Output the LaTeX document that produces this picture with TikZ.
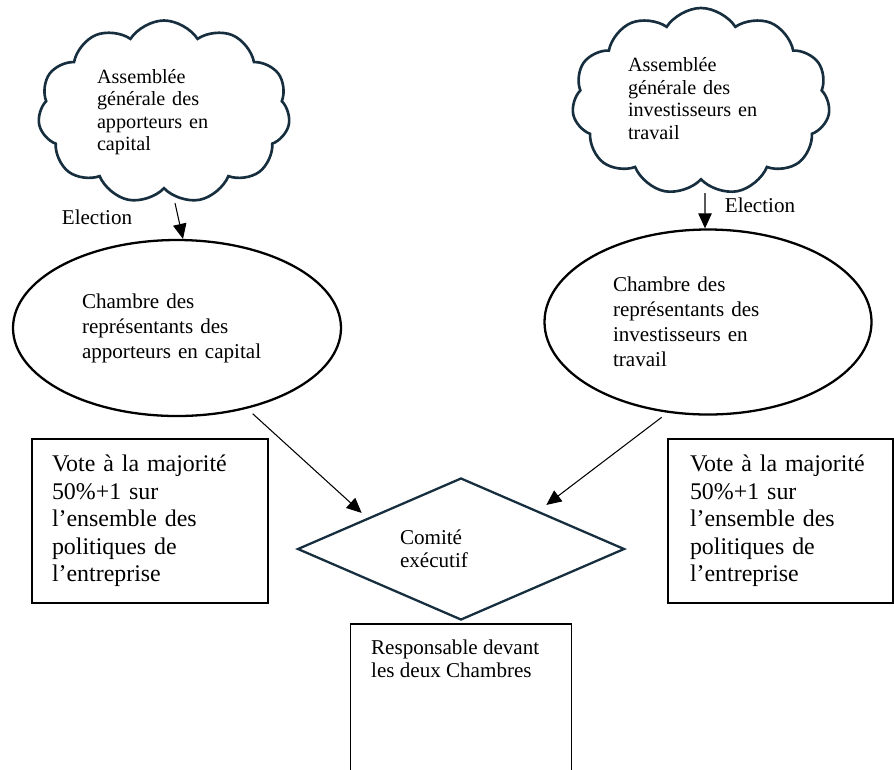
\documentclass[tikz,border=0pt]{standalone}
\usepackage{fontspec}
\setmainfont{Liberation Serif}
\usetikzlibrary{shapes.symbols, shapes.geometric, arrows.meta, positioning}
\definecolor{cloudline}{RGB}{22,46,62}
\tikzstyle{assembly} = [cloud, cloud puffs=11, cloud puff arc=115, cloud ignores aspect, draw=cloudline, line width=1.5pt, inner sep=0pt]
\tikzstyle{assemblytext} = [align=left, inner sep=0pt, font=\fontsize{11.5}{12.8}\selectfont]
\tikzstyle{chamber} = [ellipse, draw=black, line width=1.3pt, text width=3.8cm, align=left, inner sep=0pt, font=\fontsize{12}{14.2}\selectfont]
\tikzstyle{vote} = [rectangle, draw=black, line width=0.8pt, minimum height=3.28cm, align=left, font=\fontsize{13.6}{15.6}\selectfont]
\tikzstyle{decision} = [diamond, aspect=2.3, draw=cloudline, line width=1.3pt, minimum width=6.54cm, minimum height=2.84cm, text width=2.44cm, align=left, inner sep=0pt, font=\fontsize{12}{13.1}\selectfont]
\tikzstyle{plainbox} = [rectangle, draw=black, line width=0.8pt]
\tikzstyle{electlabel} = [inner sep=0pt, font=\fontsize{12}{14}\selectfont]
\tikzstyle{arrow} = [line width=0.6pt, -{Triangle[length=0.3cm, width=0.27cm]}]

\begin{document}
\begin{tikzpicture}
    \useasboundingbox (0,0) rectangle (17.88,-15.38);

    % Nodes
    \node (lcloud) [assembly, minimum width=5.04cm, minimum height=3.66cm] at (3.28,-2.24) {};
    \node (lcloudtext) [assemblytext, text width=2.68cm] at (lcloud.center) {Assemblée\\générale des\\apporteurs en\\capital};
    \node (rcloud) [assembly, minimum width=5.16cm, minimum height=3.74cm] at (14.02,-2.03) {};
    \node (rcloudtext) [assemblytext, text width=2.92cm] at ([yshift=0.06cm]rcloud.center) {Assemblée\\générale des\\investisseurs en\\travail};
    \node (lchamber) [chamber, minimum width=6.56cm, minimum height=3.52cm] at (3.54,-6.56) {Chambre des\\représentants des\\apporteurs en capital};
    \node (rchamber) [chamber, minimum width=6.54cm, minimum height=3.7cm] at (14.16,-6.44) {Chambre des\\représentants des\\investisseurs en\\travail};
    \node (elecL) [electlabel] at (1.94,-4.34) {Election};
    \node (elecR) [electlabel] at (15.2,-4.1) {Election};
    \node (comite) [decision] at (9.22,-10.98) {Comité\\exécutif};
    \node (lvote) [vote, minimum width=4.72cm, text width=3.92cm] at (3.0,-10.42) {Vote à la majorité\\50\%+1 sur\\l’ensemble des\\politiques de\\l’entreprise};
    \node (rvote) [vote, minimum width=4.5cm, text width=3.62cm] at (15.61,-10.42) {Vote à la majorité\\50\%+1 sur\\l’ensemble des\\politiques de\\l’entreprise};
    \node (resp) [plainbox, below=0.04cm of comite, minimum width=4.42cm, minimum height=3.5cm] {};
    \node (resptext) [anchor=north west, inner sep=0pt, align=left, font=\fontsize{12}{13.1}\selectfont] at ([xshift=0.42cm, yshift=-0.32cm]resp.north west) {Responsable devant\\les deux Chambres};

    % Arrows
    \draw [arrow] ([shift={(0.22cm,-0.26cm)}]lcloud.south) -- ([xshift=0.12cm]lchamber.north);
    \draw [arrow] ([shift={(0.08cm,-0.24cm)}]rcloud.south) -- ([xshift=-0.06cm]rchamber.north);
    \draw [arrow, shorten <=0.15cm] (lchamber.-49) -- ([xshift=-0.34cm]comite.north west);
    \draw [arrow, shorten <=0.15cm] (rchamber.-114) -- ([shift={(0.06cm,0.16cm)}]comite.north east);

\end{tikzpicture}
\end{document}
